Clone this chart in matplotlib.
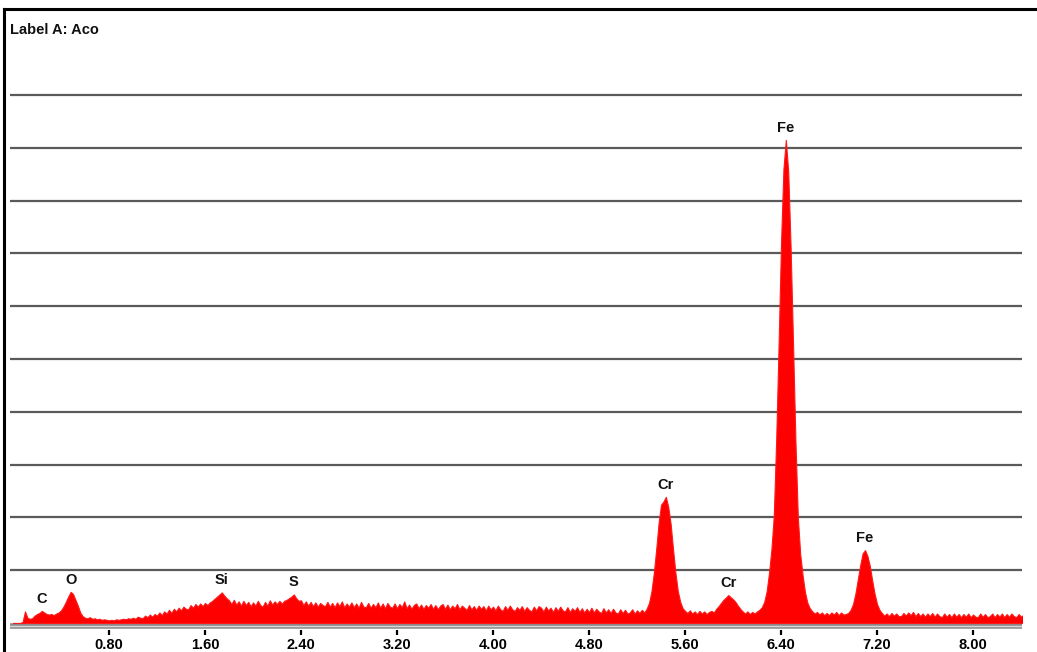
import numpy as np
import matplotlib
matplotlib.use("Agg")
import matplotlib.pyplot as plt
from matplotlib.lines import Line2D

# EDS spectrum, one value every 0.02 keV starting at 0.00 keV (height in grid units)
CHANNEL_KEV = 0.02
counts = [
    0, 0, 0, 0, 0.02, 0.22, 0.1, 0.08, 0.09, 0.14,               # 0.00
    0.17, 0.19, 0.23, 0.2, 0.17, 0.16, 0.17, 0.15, 0.18, 0.2,    # 0.20
    0.24, 0.31, 0.4, 0.5, 0.59, 0.55, 0.44, 0.33, 0.2, 0.13,     # 0.40
    0.1, 0.09, 0.11, 0.08, 0.09, 0.07, 0.08, 0.06, 0.07, 0.06,   # 0.60
    0.05, 0.06, 0.05, 0.07, 0.06, 0.07, 0.08, 0.07, 0.09, 0.08,  # 0.80
    0.1, 0.08, 0.12, 0.1, 0.09, 0.14, 0.11, 0.16, 0.12, 0.17,    # 1.00
    0.14, 0.2, 0.15, 0.22, 0.18, 0.25, 0.19, 0.27, 0.22, 0.29,   # 1.20
    0.24, 0.31, 0.27, 0.26, 0.34, 0.29, 0.36, 0.31, 0.37, 0.32,  # 1.40
    0.38, 0.34, 0.39, 0.42, 0.46, 0.5, 0.54, 0.58, 0.52, 0.47,   # 1.60
    0.43, 0.36, 0.44, 0.35, 0.41, 0.33, 0.42, 0.34, 0.4, 0.32,   # 1.80
    0.39, 0.33, 0.42, 0.34, 0.31, 0.4, 0.33, 0.43, 0.35, 0.41,   # 2.00
    0.36, 0.42, 0.37, 0.42, 0.44, 0.47, 0.5, 0.54, 0.47, 0.42,   # 2.20
    0.43, 0.34, 0.41, 0.33, 0.4, 0.32, 0.39, 0.31, 0.38, 0.34,   # 2.40
    0.32, 0.4, 0.31, 0.38, 0.3, 0.39, 0.32, 0.41, 0.3, 0.37,     # 2.60
    0.31, 0.39, 0.3, 0.37, 0.29, 0.4, 0.31, 0.3, 0.38, 0.29,     # 2.80
    0.36, 0.3, 0.39, 0.29, 0.37, 0.28, 0.38, 0.31, 0.29, 0.37,   # 3.00
    0.28, 0.36, 0.3, 0.41, 0.28, 0.35, 0.27, 0.34, 0.37, 0.28,   # 3.20
    0.35, 0.27, 0.34, 0.29, 0.36, 0.27, 0.34, 0.26, 0.33, 0.36,  # 3.40
    0.27, 0.35, 0.26, 0.33, 0.28, 0.36, 0.26, 0.33, 0.29, 0.25,  # 3.60
    0.34, 0.26, 0.32, 0.25, 0.33, 0.27, 0.32, 0.24, 0.33, 0.26,  # 3.80
    0.31, 0.24, 0.33, 0.26, 0.23, 0.32, 0.25, 0.33, 0.26, 0.23,  # 4.00
    0.3, 0.25, 0.32, 0.23, 0.3, 0.25, 0.22, 0.31, 0.24, 0.32,    # 4.20
    0.29, 0.22, 0.31, 0.24, 0.29, 0.21, 0.3, 0.23, 0.31, 0.24,   # 4.40
    0.22, 0.3, 0.21, 0.28, 0.23, 0.3, 0.21, 0.28, 0.2, 0.27,     # 4.60
    0.21, 0.29, 0.2, 0.27, 0.22, 0.19, 0.28, 0.2, 0.26, 0.19,    # 4.80
    0.27, 0.2, 0.18, 0.26, 0.19, 0.25, 0.18, 0.2, 0.26, 0.18,    # 5.00
    0.24, 0.19, 0.25, 0.2, 0.27, 0.38, 0.6, 0.95, 1.4, 1.9,      # 5.20
    2.24, 2.3, 2.39, 2.2, 1.88, 1.4, 0.95, 0.6, 0.4, 0.28,       # 5.40
    0.23, 0.19, 0.24, 0.18, 0.22, 0.17, 0.23, 0.18, 0.22, 0.17,  # 5.60
    0.21, 0.23, 0.2, 0.27, 0.32, 0.38, 0.44, 0.48, 0.53, 0.49,   # 5.80
    0.45, 0.4, 0.33, 0.27, 0.22, 0.18, 0.22, 0.17, 0.21, 0.18,   # 6.00
    0.22, 0.25, 0.3, 0.4, 0.6, 0.95, 1.4, 2.05, 3.5, 5.3,        # 6.20
    7.2, 8.6, 9.15, 8.55, 7.1, 5.3, 3.45, 2.0, 1.3, 0.9,         # 6.40
    0.58, 0.38, 0.28, 0.22, 0.18, 0.21, 0.16, 0.2, 0.15, 0.19,   # 6.60
    0.15, 0.2, 0.16, 0.21, 0.15, 0.2, 0.16, 0.17, 0.19, 0.25,    # 6.80
    0.36, 0.56, 0.83, 1.1, 1.32, 1.38, 1.27, 1.08, 0.8, 0.55,    # 7.00
    0.36, 0.25, 0.19, 0.14, 0.18, 0.13, 0.19, 0.14, 0.18, 0.13,  # 7.20
    0.13, 0.19, 0.14, 0.2, 0.15, 0.21, 0.13, 0.19, 0.13, 0.18,   # 7.40
    0.12, 0.18, 0.13, 0.19, 0.12, 0.18, 0.13, 0.11, 0.18, 0.12,  # 7.60
    0.17, 0.11, 0.18, 0.12, 0.17, 0.11, 0.17, 0.12, 0.18, 0.11,  # 7.80
    0.16, 0.12, 0.11, 0.18, 0.12, 0.17, 0.11, 0.13, 0.18, 0.11,  # 8.00
    0.17, 0.12, 0.18, 0.11, 0.17, 0.12, 0.18, 0.13, 0.11, 0.17,  # 8.20
    0.12, 0.16,                                                  # 8.40
]
energy = np.arange(len(counts)) * CHANNEL_KEV

# peak labels
peak_names = ["C", "O", "Si", "S", "Cr", "Cr", "Fe", "Fe"]
peak_kev = [0.24, 0.48, 1.74, 2.34, 5.44, 5.96, 6.44, 7.10]

tick_values = [0.80, 1.60, 2.40, 3.20, 4.00, 4.80, 5.60, 6.40, 7.20, 8.00]
tick_labels = ["0.80", "1.60", "2.40", "3.20", "4.00", "4.80", "5.60", "6.40", "7.20", "8.00"]
grid_levels = [1, 2, 3, 4, 5, 6, 7, 8, 9, 10]

FONT = ["Liberation Sans Narrow", "Liberation Sans", "DejaVu Sans"]

W, H = 1037, 652
fig = plt.figure(figsize=(W / 100, H / 100), dpi=100)
fig.patch.set_facecolor("white")

# axes placed in pixels: x 10..1022, y baseline at 623 px, 52.8 px per grid unit
ymin, ymax = -0.25, 10.8
px_per_unit = 52.8
bottom_px = 623 + (-ymin) * px_per_unit
top_px = 623 - ymax * px_per_unit
ax = fig.add_axes([10 / W, (H - bottom_px) / H, 1012 / W, (bottom_px - top_px) / H])
ax.set_xlim(-0.025, 8.408)
ax.set_ylim(ymin, ymax)

for g in grid_levels:
    ax.axhline(g, color="#5a5a5a", lw=1.6, zorder=1)

ax.fill_between(energy, 0, counts, color="#ff0000", lw=0.8, edgecolor="#ff1a1a", zorder=3)

# baseline (gray double line) and ticks
ax.axhline(-0.06, color="#8c8c8c", lw=4, zorder=2)
ax.axhline(-0.06, color="#d9d9d9", lw=1.0, zorder=2)
ax.vlines(tick_values, -0.13, -0.23, color="black", lw=1.6, zorder=2)

ax.set_xticks(tick_values)
ax.set_xticklabels(tick_labels, family=FONT, fontweight="bold", fontsize=10.5)
ax.tick_params(axis="x", length=0, pad=1.5)
ax.set_yticks([])
for s in ax.spines.values():
    s.set_visible(False)

for name, e in zip(peak_names, peak_kev):
    i = int(round(e / CHANNEL_KEV))
    ax.annotate(name, (e, counts[i]), xytext=(0, 12), textcoords="offset pixels",
                ha="center", va="center", fontsize=10.5, fontweight="bold",
                family=FONT, color="#111111", zorder=4)

fig.text(10 / W, 1 - 30 / H, "Label A: Aco", ha="left", va="center",
         fontsize=10.5, fontweight="bold", family=FONT, color="#111111")

# outer frame (top and left edges)
fig.add_artist(Line2D([4 / W, 1], [1 - 9 / H, 1 - 9 / H], color="black", lw=2.2,
                      transform=fig.transFigure))
fig.add_artist(Line2D([4 / W, 4 / W], [0, 1 - 9 / H], color="black", lw=2.2,
                      transform=fig.transFigure))

fig.savefig("out.png", dpi=100)
